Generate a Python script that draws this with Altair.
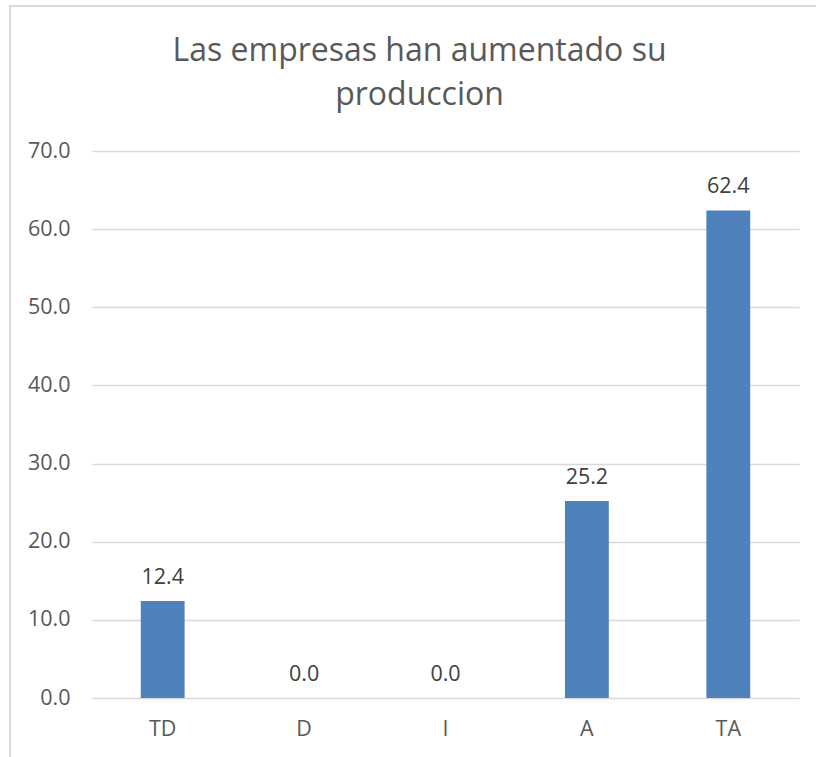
import altair as alt
import pandas as pd

# Survey answers: share of respondents per option (%)
categories = ["TD", "D", "I", "A", "TA"]
values = [12.4, 0.0, 0.0, 25.2, 62.4]
y_ticks = [0, 10, 20, 30, 40, 50, 60, 70]

df = pd.DataFrame({"respuesta": categories, "porcentaje": values})

FONT = "Open Sans"
GREY = "#595959"

x_enc = alt.X(
    "respuesta:N",
    sort=categories,
    title=None,
    scale=alt.Scale(paddingInner=0.69, paddingOuter=0.345),
    axis=alt.Axis(
        labelAngle=0, domain=False, ticks=False, tickSize=0, grid=False,
        labelPadding=20, labelFontSize=21.5, labelColor=GREY, labelFont=FONT,
    ),
)
y_enc = alt.Y(
    "porcentaje:Q",
    title=None,
    scale=alt.Scale(domain=[0, 70]),
    axis=alt.Axis(
        values=y_ticks, format=".1f", domain=False, ticks=False,
        labelPadding=22, labelFontSize=21.5, labelColor=GREY, labelFont=FONT,
        gridColor="#d9d9d9", gridWidth=1.5,
    ),
)

bars = alt.Chart(df).mark_bar(color="#4f81bd").encode(x=x_enc, y=y_enc)

labels = alt.Chart(df).mark_text(
    baseline="alphabetic", dy=-17, fontSize=21.5, color="#404040", font=FONT
).encode(x=x_enc, y=y_enc, text=alt.Text("porcentaje:Q", format=".1f"))

# Outer chart frame
frame = alt.Chart(df).mark_rect(
    fill="transparent", stroke="#d9d9d9", strokeWidth=1.5
).encode(
    x=alt.value(-82), x2=alt.value(760), y=alt.value(-145), y2=alt.value(700)
)

chart = alt.layer(frame, bars, labels).properties(
    width=707,
    height=547,
    background="white",
    title=alt.TitleParams(
        text=["Las empresas han aumentado su", "produccion"],
        fontSize=32, font=FONT, fontWeight="normal", color=GREY,
        lineHeight=44, anchor="middle", dx=-26, dy=129, offset=22,
    ),
    autosize=alt.AutoSizeParams(type="none"),
    padding={"left": 92, "top": 151, "right": 17, "bottom": 59},
).configure_view(strokeWidth=0, stroke="transparent")

chart.save("out.html", embed_options={"renderer": "svg", "actions": False})
